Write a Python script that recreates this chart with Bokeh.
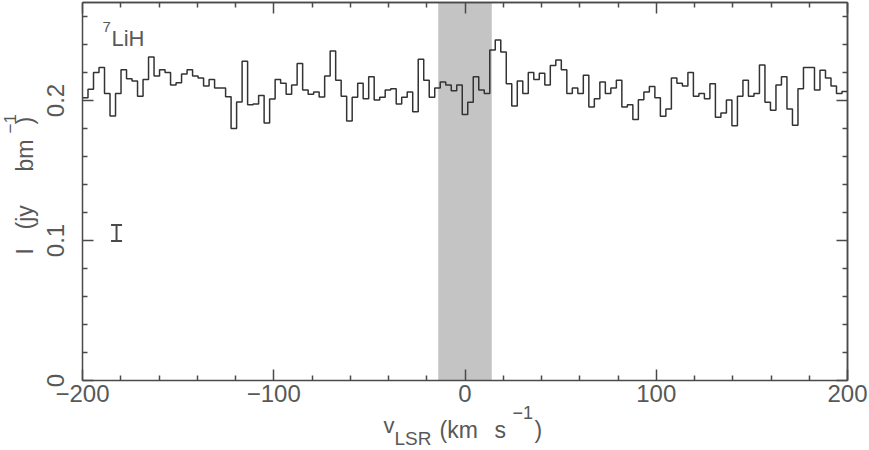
import numpy as np
from bokeh.plotting import figure
from bokeh.models import (Range1d, FixedTicker, LinearAxis, BoxAnnotation, Label,
                          ColumnDataSource, Whisker, TeeHead)
from bokeh.embed import file_html
from bokeh.resources import INLINE

# ---------------- data ----------------
v_start = -200.0
v_end = 200.0
I_top = 0.27
flux = [
    0.202, 0.208, 0.220, 0.2235, 0.205, 0.189, 0.205, 0.222, 0.2156, 0.214,
    0.203, 0.215, 0.231, 0.2175, 0.222, 0.220, 0.211, 0.2127, 0.219, 0.222,
    0.2175, 0.216, 0.2103, 0.215, 0.209, 0.209, 0.2027, 0.180, 0.199, 0.228,
    0.197, 0.1975, 0.2035, 0.184, 0.201, 0.215,
    0.2123, 0.2044, 0.211, 0.2264, 0.2075, 0.2044, 0.206, 0.2025, 0.2175, 0.2354,
    0.2144, 0.203, 0.1854, 0.2023, 0.2123, 0.2013, 0.217, 0.2003, 0.2023, 0.2075,
    0.2084, 0.1975, 0.2023, 0.206, 0.192, 0.2294, 0.2144, 0.2023, 0.209, 0.2132,
    0.211, 0.207, 0.211, 0.190,
    0.1988, 0.217, 0.2075, 0.205, 0.236, 0.2433, 0.2346, 0.212, 0.196, 0.214,
    0.205, 0.220, 0.215, 0.2194, 0.211, 0.225, 0.229, 0.222, 0.205, 0.209,
    0.205, 0.218, 0.1953, 0.2013, 0.2132, 0.205, 0.209, 0.2144, 0.1953, 0.197,
    0.1864, 0.2005, 0.206, 0.210,
    0.202, 0.1888, 0.194, 0.216, 0.2123, 0.2103, 0.220, 0.203, 0.205, 0.2013,
    0.212, 0.188, 0.191, 0.2003, 0.182, 0.203, 0.2144, 0.203, 0.205, 0.2254,
    0.1988, 0.193, 0.211, 0.217, 0.194, 0.1823, 0.2084, 0.2235, 0.2235, 0.2075,
    0.2216, 0.216, 0.2103, 0.205, 0.2065,
]
band_lo, band_hi = -14.0, 14.0
err_v = [-182.2]
err_I = [0.1054]
err_sigma = [0.0057]
x_ticks = [-200, -100, 0, 100, 200]
x_tick_labels = ["\u2212200", "\u2212100", "0", "100", "200"]
y_ticks = [0.0, 0.1, 0.2]
y_tick_labels = ["0", "0.1", "0.2"]
x_minor = [-180, -160, -140, -120, -80, -60, -40, -20, 20, 40, 60, 80, 120, 140, 160, 180]
y_minor = [0.02, 0.04, 0.06, 0.08, 0.12, 0.14, 0.16, 0.18, 0.22, 0.24, 0.26]
species = "LiH"
isotope = "7"

# ---------------- geometry / style ----------------
W, H = 869, 450
FL, FR, FT, FB = 82, 847, 2, 380          # box of the axes, in canvas pixels
LINE = "#4a4a4a"
TEXT = "#585858"
FONT = "Liberation Sans"

sx = (FR - FL) / (v_end - v_start)        # px per km/s
sy = (FB - FT) / I_top                     # px per Jy/beam
x_range = Range1d(v_start - FL / sx, v_end + (W - FR) / sx)
y_range = Range1d(-(H - FB) / sy, I_top + FT / sy)

n = len(flux)
dv = (v_end - v_start) / n
edges = [v_start + dv * i for i in range(n + 1)]
y_step = flux + [flux[-1]]

p = figure(width=W, height=H, x_range=x_range, y_range=y_range,
           output_backend="svg", toolbar_location=None, min_border=0)
p.background_fill_color = "white"
p.border_fill_color = "white"
p.outline_line_color = None
p.xgrid.visible = False
p.ygrid.visible = False

band = BoxAnnotation(left=band_lo, right=band_hi, bottom=0, top=I_top,
                     fill_color="#c4c4c4", fill_alpha=1.0,
                     line_color=None, level="underlay")
p.add_layout(band)

p.step(x=edges, y=y_step, mode="after", line_color="#333333", line_width=1.5)

src = ColumnDataSource(dict(x=err_v, lo=[a - b for a, b in zip(err_I, err_sigma)],
                            hi=[a + b for a, b in zip(err_I, err_sigma)]))
wh = Whisker(source=src, base="x", lower="lo", upper="hi", dimension="height",
             line_color=LINE, line_width=2,
             upper_head=TeeHead(size=11, line_color=LINE, line_width=2),
             lower_head=TeeHead(size=11, line_color=LINE, line_width=2))
p.add_layout(wh)


def style_axis(ax):
    ax.axis_line_color = LINE
    ax.axis_line_width = 1.5
    ax.major_tick_line_color = LINE
    ax.major_tick_line_width = 1.5
    ax.minor_tick_line_color = LINE
    ax.minor_tick_line_width = 1.5
    ax.major_tick_in = 11
    ax.major_tick_out = 0
    ax.minor_tick_in = 5
    ax.minor_tick_out = 0
    ax.major_label_text_font = FONT
    ax.major_label_text_color = TEXT
    ax.major_label_text_font_size = "24px"


# bottom axis
xa = p.xaxis[0]
xa.ticker = FixedTicker(ticks=x_ticks, minor_ticks=x_minor)
xa.major_label_overrides = {t: s for t, s in zip(x_ticks, x_tick_labels)}
style_axis(xa)
xa.fixed_location = 0
xa.bounds = (v_start, v_end)
xa.major_label_standoff = 4

# left axis
ya = p.yaxis[0]
ya.ticker = FixedTicker(ticks=y_ticks, minor_ticks=y_minor)
ya.major_label_overrides = {t: s for t, s in zip(y_ticks, y_tick_labels)}
style_axis(ya)
ya.fixed_location = v_start
ya.bounds = (0, I_top)
ya.major_label_orientation = "parallel"
ya.major_label_standoff = 19


# top and right: tick marks only (no labels)
def tick_only_axis(side, loc, bounds, minor, length):
    ax = LinearAxis(ticker=FixedTicker(ticks=[], minor_ticks=minor))
    style_axis(ax)
    ax.minor_tick_in = length
    ax.fixed_location = loc
    ax.bounds = bounds
    p.add_layout(ax, side)


tick_only_axis("above", I_top, (v_start, v_end), x_minor, 5)
tick_only_axis("above", I_top, (v_start, v_end), x_ticks, 11)
tick_only_axis("right", v_end, (0, I_top), y_minor, 5)
tick_only_axis("right", v_end, (0, I_top), y_ticks, 11)


# canvas pixel -> data helpers for text placement
def dx(px):
    return v_start + (px - FL) / sx


def dy(py):
    return (FB - py) / sy


def add_text(txt, px, py, size, angle=0.0):
    # px, py: left end of the text on its baseline, in canvas pixels
    corr = 0.31 * size
    if angle == 0.0:
        py -= corr
    else:
        px -= corr
    p.add_layout(Label(x=dx(px), y=dy(py), text=txt, angle=angle,
                       text_font=FONT, text_font_size=f"{size}px", text_color=TEXT,
                       text_align="left", text_baseline="alphabetic"))


# species label
add_text(isotope, 102, 31, 15)
add_text(species, 111, 45, 22)

# x-axis label: v_LSR (km s^-1)
add_text("v", 383, 432, 22)
add_text("LSR", 394, 444, 19)
add_text("(km", 439, 437, 23)
add_text("s", 494, 437, 23)
add_text("\u22121", 512, 418, 18)
add_text(")", 534, 437, 23)

# y-axis label: I (jy bm^-1), rotated
R = np.pi / 2
add_text("I", 32, 254, 23, R)
add_text("(jy", 32, 229, 23, R)
add_text("bm", 32, 171, 23, R)
add_text("\u22121", 15, 133, 17, R)
add_text(")", 32, 124, 23, R)

open("out.html", "w").write(file_html(p, INLINE))
